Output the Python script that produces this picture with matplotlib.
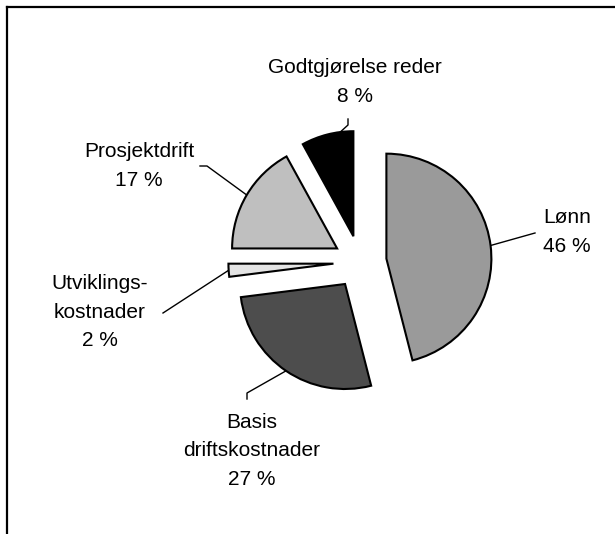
import numpy as np
import matplotlib
matplotlib.use("Agg")
import matplotlib.pyplot as plt
from matplotlib.lines import Line2D

plt.rcParams['font.family'] = ['Liberation Sans', 'DejaVu Sans']

# data, clockwise from 12 o'clock
categories = ["Lønn", "Basis\ndriftskostnader", "Utviklings-\nkostnader", "Prosjektdrift", "Godtgjørelse reder"]
shares = [46, 27, 2, 17, 8]
pct_labels = ["46 %", "27 %", "2 %", "17 %", "8 %"]
colors = ["#9a9a9a", "#4d4d4d", "#e4e4e4", "#bfbfbf", "#000000"]

W, H = 615, 534
fig = plt.figure(figsize=(W / 100, H / 100), dpi=100)
ax = fig.add_axes([0, 0, 1, 1])

wedges, _ = ax.pie(shares, colors=colors, startangle=90, counterclock=False,
                   radius=105, center=(360, H - 262), explode=[26.6] * len(shares),
                   wedgeprops=dict(edgecolor="black", linewidth=1.5))
ax.set_xlim(0, W)
ax.set_ylim(0, H)
ax.axis("off")

# label centres and leader start points (pixel coords, y down)
label_pos = [(567, 232), (252, 451), (100, 312), (139, 166), (355, 82)]
leader_start = [
    [(535, 233)],
    [(247, 399), (247, 393)],
    [(163, 313)],
    [(200, 166), (207, 166)],
    [(348, 119), (348, 125)],
]
# where each leader meets the arc, as a fraction across the slice
attach = [0.5, 0.5, 0.5, 0.5, 0.25]

for w, cat, pct, (tx, ty), pts, f in zip(wedges, categories, pct_labels, label_pos, leader_start, attach):
    ax.text(tx, H - ty, f"{cat}\n{pct}", ha="center", va="center",
            fontsize=15, linespacing=1.65)
    ang = np.deg2rad(w.theta1 + f * (w.theta2 - w.theta1))
    cx, cy = w.center
    arc = (cx + w.r * np.cos(ang), cy + w.r * np.sin(ang))
    xs = [p[0] for p in pts] + [arc[0]]
    ys = [H - p[1] for p in pts] + [arc[1]]
    ax.plot(xs, ys, color="black", lw=1, zorder=0)

# frame (left and top only, rest is cropped)
fig.add_artist(Line2D([7 / W, 7 / W], [0, 1 - 7 / H], transform=fig.transFigure,
                      color="black", lw=1.6, solid_capstyle="projecting"))
fig.add_artist(Line2D([7 / W, 1], [1 - 7 / H, 1 - 7 / H], transform=fig.transFigure,
                      color="black", lw=1.6, solid_capstyle="projecting"))

fig.savefig("out.png", dpi=100)
